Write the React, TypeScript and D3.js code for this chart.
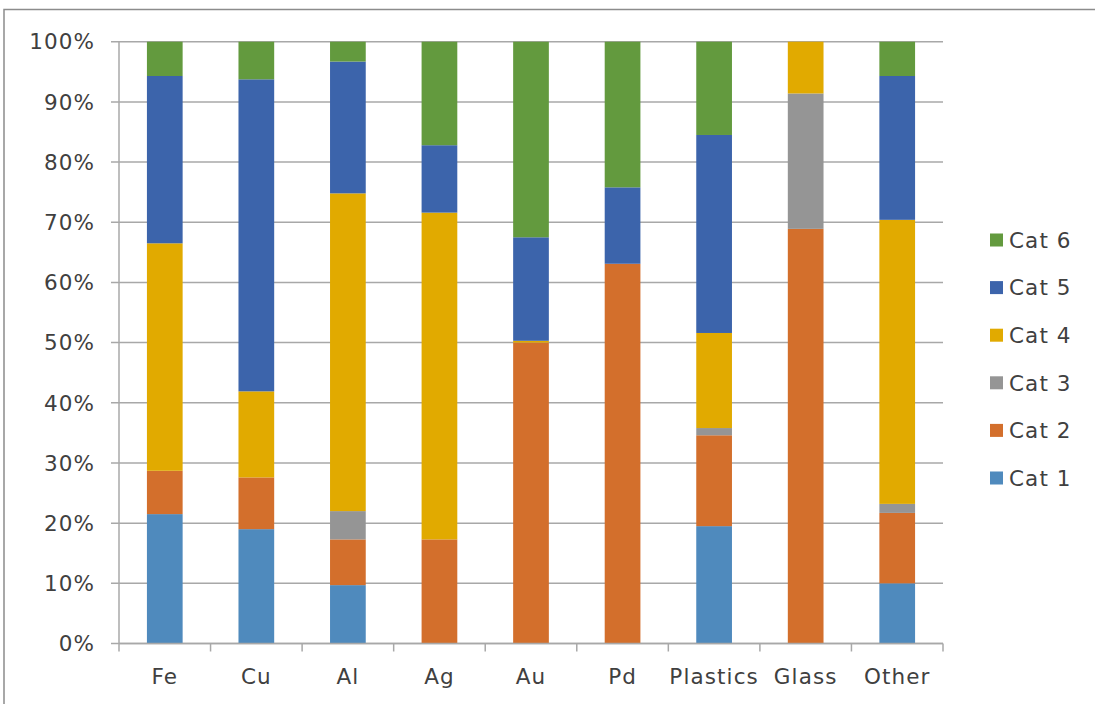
import React from "react";
import * as d3 from "d3";

// Material categories along the x axis
const categories = ["Fe", "Cu", "Al", "Ag", "Au", "Pd", "Plastics", "Glass", "Other"];

// Share (%) of each category per material
const cat1 = [21.5, 19.0, 9.7, 0, 0, 0, 19.5, 0, 10.0];
const cat2 = [7.2, 8.6, 7.6, 17.3, 50.0, 63.1, 15.1, 68.9, 11.7];
const cat3 = [0, 0, 4.7, 0, 0, 0, 1.2, 22.5, 1.5];
const cat4 = [37.8, 14.3, 52.8, 54.3, 0.3, 0, 15.8, 8.6, 47.2];
const cat5 = [27.8, 51.85, 21.9, 11.2, 17.2, 12.7, 32.9, 0, 23.9];
const cat6 = [5.7, 6.25, 3.3, 17.2, 32.5, 24.2, 15.5, 0, 5.7];

const seriesNames = ["Cat 1", "Cat 2", "Cat 3", "Cat 4", "Cat 5", "Cat 6"];
const seriesValues = [cat1, cat2, cat3, cat4, cat5, cat6];
const seriesColors = ["#4f8abd", "#d36f2c", "#959595", "#e1aa00", "#3c64ab", "#639a3e"];

const yTicks = [0, 0.1, 0.2, 0.3, 0.4, 0.5, 0.6, 0.7, 0.8, 0.9, 1];

const W = 1095;
const H = 704;
const plot = { left: 119, right: 943, top: 41.7, bottom: 643.5 };
const FONT = "'DejaVu Sans', Verdana, sans-serif";
const TEXT = "#404040";
const GRID = "#a8a8a8";
const FS = 21.5;
const LS = 1.1;

export default function App() {
  const rows = categories.map((c, i) => {
    const r: Record<string, number | string> = { cat: c };
    seriesNames.forEach((s, k) => (r[s] = seriesValues[k][i]));
    return r;
  });

  const stacked = d3
    .stack<Record<string, number | string>>()
    .keys(seriesNames)
    .value((d, k) => d[k] as number)
    .offset(d3.stackOffsetExpand)(rows);

  const x = d3.scaleBand<string>().domain(categories).range([plot.left, plot.right]).padding(0);
  const y = d3.scaleLinear().domain([0, 1]).range([plot.bottom, plot.top]);
  const barW = x.bandwidth() * 0.39;
  const fmt = d3.format(".0%");

  const boundaries = [...categories.map((c) => x(c)!), plot.right];

  return (
    <svg
      width={W}
      height={H}
      style={{ position: "absolute", left: 0, top: 0, display: "block", background: "#fff" }}
    >
      {/* chart frame */}
      <rect x={4} y={9.5} width={W + 10} height={H + 10} fill="#fff" stroke="#8c8c8c" strokeWidth={1.5} />

      {/* gridlines and y ticks */}
      {yTicks.map((t) => (
        <g key={t}>
          <line x1={plot.left - 8} x2={plot.right} y1={y(t)} y2={y(t)} stroke={GRID} strokeWidth={1.5} />
          <text
            x={95}
            y={y(t)}
            dy="0.36em"
            textAnchor="end"
            fontFamily={FONT}
            fontSize={FS}
            fill={TEXT}
            letterSpacing={LS}
          >
            {fmt(t)}
          </text>
        </g>
      ))}

      {/* y axis */}
      <line x1={plot.left} x2={plot.left} y1={plot.top} y2={plot.bottom} stroke={GRID} strokeWidth={1.5} />

      {/* x axis ticks at category boundaries */}
      {boundaries.map((bx, i) => (
        <line key={i} x1={bx} x2={bx} y1={plot.bottom} y2={plot.bottom + 8} stroke={GRID} strokeWidth={1.5} />
      ))}

      {/* stacked bars */}
      {stacked.map((layer, k) => (
        <g key={layer.key} fill={seriesColors[k]}>
          {layer.map((d, i) => {
            const h = y(d[0]) - y(d[1]);
            if (h <= 0) return null;
            const cx = x(categories[i])! + x.bandwidth() / 2;
            return <rect key={i} x={cx - barW / 2} y={y(d[1])} width={barW} height={h} />;
          })}
        </g>
      ))}

      {/* x axis line */}
      <line x1={plot.left} x2={plot.right} y1={plot.bottom} y2={plot.bottom} stroke={GRID} strokeWidth={1.5} />

      {/* category labels */}
      {categories.map((c) => (
        <text
          key={c}
          x={x(c)! + x.bandwidth() / 2}
          y={684}
          textAnchor="middle"
          fontFamily={FONT}
          fontSize={FS}
          fill={TEXT}
          letterSpacing={LS}
        >
          {c}
        </text>
      ))}

      {/* legend */}
      {seriesNames
        .slice()
        .reverse()
        .map((name, j) => {
          const k = seriesNames.length - 1 - j;
          const cy = 240 + j * 47.6;
          return (
            <g key={name}>
              <rect x={990} y={cy - 6.5} width={13} height={13} fill={seriesColors[k]} />
              <text
                x={1009}
                y={cy}
                dy="0.36em"
                fontFamily={FONT}
                fontSize={FS}
                fill={TEXT}
                letterSpacing={LS}
              >
                {name}
              </text>
            </g>
          );
        })}
    </svg>
  );
}
